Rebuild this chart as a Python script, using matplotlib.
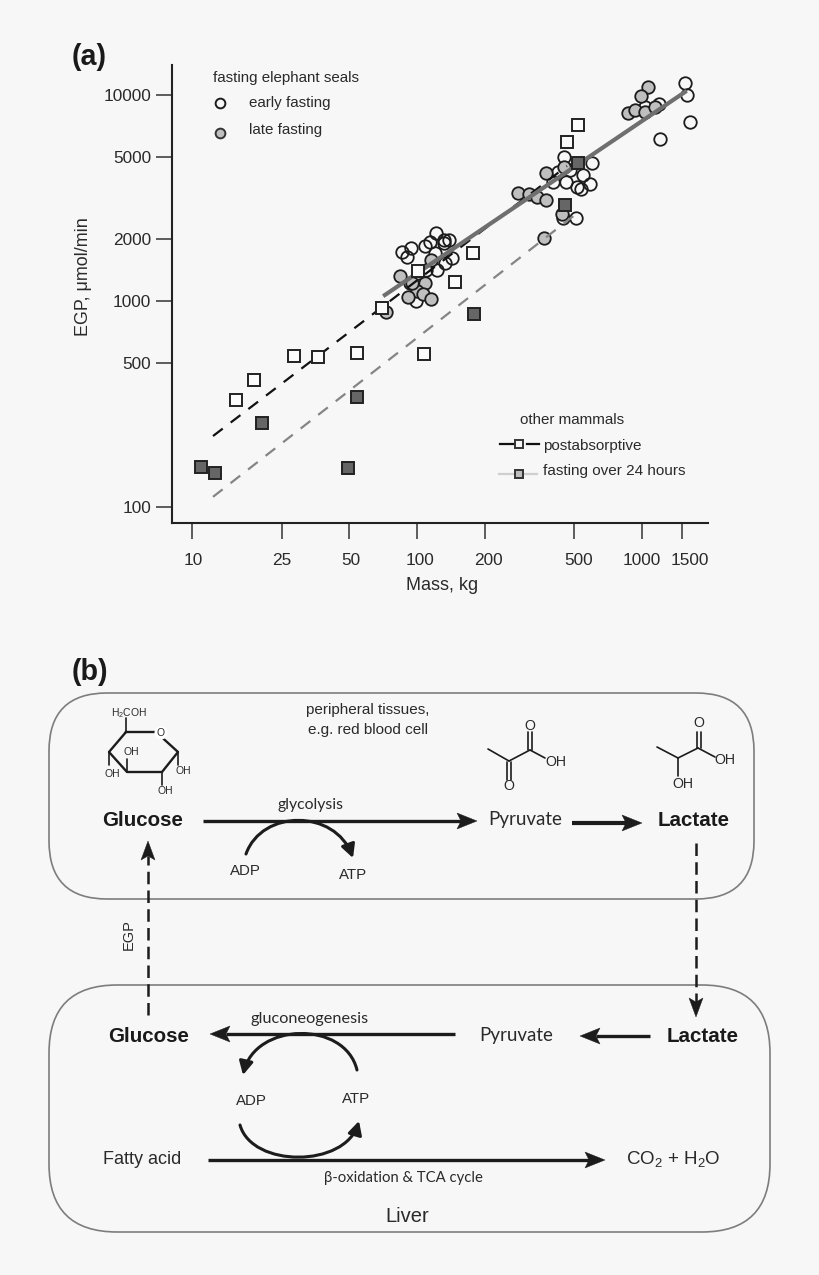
import matplotlib
matplotlib.use('Agg')
import matplotlib.pyplot as plt
import matplotlib.transforms as mtrans
from matplotlib.patches import FancyBboxPatch, FancyArrowPatch, Polygon
from matplotlib.path import Path

plt.rcParams['font.family'] = ['Liberation Sans', 'DejaVu Sans']
plt.rcParams['mathtext.fontset'] = 'custom'
plt.rcParams['mathtext.rm'] = 'Liberation Sans'
plt.rcParams['mathtext.default'] = 'regular'

# focas: ayuno temprano (masa kg, EGP umol/min)
early_mass = [86, 90, 94, 109, 114, 122, 132, 139, 132, 120, 143, 133, 123, 110, 99, 93, 103,
              1553, 1586, 1633, 1202, 1191, 1032, 450, 598, 547, 460, 587, 514, 536, 403, 479, 424, 509, 446]
early_egp = [1730, 1637, 1808, 1849, 1932, 2138, 1914, 1977, 1977, 1710, 1618, 1528, 1413, 1413, 1000, 1224, 1197,
             11428, 10000, 7396, 6112, 9039, 8750, 5000, 4677, 4091, 3784, 3698, 3573, 3499, 3784, 4325, 4227, 2529, 2529]

# focas: ayuno tardio
late_mass = [84, 116, 108, 100, 106, 115, 91, 73, 95,
             1063, 990, 866, 932, 1032, 1143, 375, 450, 281, 315, 342, 375, 442, 367]
late_egp = [1322, 1581, 1224, 1119, 1081, 1023, 1045, 885, 1224,
            10939, 9886, 8180, 8453, 8260, 8750, 4180, 4467, 3342, 3304, 3199, 3090, 2644, 2023]

# otros mamiferos
post_mass = [15.7, 18.9, 28.4, 36.3, 54.1, 107, 69.9, 101, 177, 147.5, 520, 464]
post_egp = [330, 414, 541, 535, 560, 553, 925, 1400, 1710, 1236, 7145, 5916]
fast_mass = [11, 12.7, 20.5, 49.4, 54.1, 179, 455, 520]
fast_egp = [156, 146, 256, 154, 342, 865, 2924, 4677]

# rectas de ajuste
seal_fit_mass = [72, 1552]
seal_fit_egp = [1069, 10340]
post_fit_mass = [12.4, 464]
post_fit_egp = [221, 4519]
fast_fit_mass = [12.4, 509]
fast_fit_egp = [112, 2644]

x_ticks = [10, 25, 50, 100, 200, 500, 1000, 1500]
y_ticks = [100, 500, 1000, 2000, 5000, 10000]
x_label_shift = [1, 0, 2, 3, 4, 4, 0, 8]

BG = '#f7f7f7'
INK = '#1c1c1c'
TXT = '#2a2a2a'
CAL = ['Lato', 'DejaVu Sans']

fig = plt.figure(figsize=(8.2, 12.75), dpi=100, facecolor=BG)

# capa en pixeles para el esquema y los textos
bg = fig.add_axes([0, 0, 1, 1])
bg.set_xlim(0, 820)
bg.set_ylim(1275, 0)
bg.axis('off')


def texto(x, y, s, size=11, **kw):
    kw.setdefault('ha', 'center')
    kw.setdefault('va', 'center')
    kw.setdefault('color', TXT)
    bg.text(x, y, s, fontsize=size, **kw)


def enlace(x0, y0, x1, y1, lw=1.2):
    bg.plot([x0, x1], [y0, y1], color=INK, lw=lw, solid_capstyle='round')


def flecha(x0, y0, x1, y1, lw=2.2, head=20, half=8, dashed=False):
    # linea recta con punta dibujada a mano
    d = ((x1 - x0) ** 2 + (y1 - y0) ** 2) ** 0.5
    ux, uy = (x1 - x0) / d, (y1 - y0) / d
    bx, by = x1 - ux * head, y1 - uy * head
    nx, ny = x1 - ux * (head - 4), y1 - uy * (head - 4)
    ls = (0, (5, 2.5)) if dashed else '-'
    bg.plot([x0, nx], [y0, ny], color=INK, lw=lw, ls=ls, solid_capstyle='butt', dash_capstyle='butt')
    bg.add_patch(Polygon([(x1, y1), (bx - uy * half, by + ux * half), (nx, ny), (bx + uy * half, by - ux * half)],
                         closed=True, fc=INK, ec=INK, lw=0.3, zorder=3))


def arco(p0, c1, c2, p1):
    # curva redondeada con punta pequena
    path = Path([p0, c1, c2, p1], [Path.MOVETO, Path.CURVE4, Path.CURVE4, Path.CURVE4])
    bg.add_patch(FancyArrowPatch(path=path, arrowstyle='-|>,head_length=5,head_width=2.6',
                                 lw=2.2, color=INK, mutation_scale=1.6))


# (a) grafico log-log
ax = fig.add_axes([172 / 820, (1275 - 523) / 1275, (708 - 172) / 820, (523 - 65) / 1275])
ax.patch.set_visible(False)
ax.set_xscale('log')
ax.set_yscale('log')
ax.set_xlim(8.15, 1965)
ax.set_ylim(83.6, 13983)

ax.plot(early_mass, early_egp, 'o', ms=9, mfc='none', mec=INK, mew=1.3, zorder=2)
ax.plot(late_mass, late_egp, 'o', ms=9, mfc='#bfbfbf', mec=INK, mew=1.3, zorder=2)
ax.plot(post_fit_mass, post_fit_egp, color='#111111', lw=1.6, ls=(0, (5.5, 4.5)), zorder=3)
ax.plot(fast_fit_mass, fast_fit_egp, color='#858585', lw=1.6, ls=(0, (5.5, 4.5)), zorder=3)
ax.plot(seal_fit_mass, seal_fit_egp, color='#6f6f6f', lw=3, zorder=3)
ax.plot(post_mass, post_egp, 's', ms=8.4, mfc='#fbfbfb', mec='#222222', mew=1.4, zorder=4)
ax.plot(fast_mass, fast_egp, 's', ms=8.4, mfc='#666666', mec='#222222', mew=1.4, zorder=4)

ax.spines['top'].set_visible(False)
ax.spines['right'].set_visible(False)
ax.spines['left'].set_linewidth(1.5)
ax.spines['bottom'].set_linewidth(1.5)
ax.spines['left'].set_color('#222222')
ax.spines['bottom'].set_color('#222222')
ax.minorticks_off()
ax.set_xticks(x_ticks)
ax.set_xticklabels([str(t) for t in x_ticks])
ax.set_yticks(y_ticks)
ax.set_yticklabels([str(t) for t in y_ticks])
ax.tick_params(axis='x', length=11.5, width=1.1, color='#333333', labelsize=12.4, labelcolor=TXT, pad=10)
ax.tick_params(axis='y', length=11.5, width=1.1, color='#333333', labelsize=12.4, labelcolor=TXT, pad=3.5)
for lab, dx in zip(ax.get_xticklabels(), x_label_shift):
    lab.set_transform(lab.get_transform() + mtrans.ScaledTranslation(dx / 100, 0, fig.dpi_scale_trans))

texto(442, 586, 'Mass, kg', 13)
texto(84, 277, 'EGP, μmol/min', 12.9, rotation=90)
texto(72, 57, '(a)', 20.6, ha='left', fontweight='bold', color='#1a1a1a')
texto(72, 672, '(b)', 20.6, ha='left', fontweight='bold', color='#1a1a1a')

# leyendas
texto(213, 78, 'fasting elephant seals', 10.9, ha='left')
texto(249, 103, 'early fasting', 10.9, ha='left')
texto(249, 130, 'late fasting', 10.9, ha='left')
bg.plot([220], [103], 'o', ms=7, mfc='none', mec=INK, mew=1.4)
bg.plot([220], [133], 'o', ms=7, mfc='#bfbfbf', mec='#333333', mew=1.4)
texto(520, 420, 'other mammals', 10.9, ha='left')
texto(543, 446, 'postabsorptive', 11, ha='left')
texto(543, 471, 'fasting over 24 hours', 11, ha='left')
bg.plot([500, 514], [444, 444], color='#111111', lw=1.6)
bg.plot([527, 539], [444, 444], color='#111111', lw=1.6)
bg.plot([519.5], [444], 's', ms=6.2, mfc='#f7f7f7', mec='#333333', mew=1.4)
bg.plot([499, 513], [474, 474], color='#cfcfcf', lw=1.6)
bg.plot([525, 537], [474, 474], color='#cfcfcf', lw=1.6)
bg.plot([519.5], [474], 's', ms=6.2, mfc='#bdbdbd', mec='#333333', mew=1.4)

# (b) esquema
bg.add_patch(FancyBboxPatch((49, 693), 705, 206, boxstyle='round,pad=0,rounding_size=58',
                            fc='none', ec='#7d7d7d', lw=1.2))
bg.add_patch(FancyBboxPatch((49, 985), 721, 247, boxstyle='round,pad=0,rounding_size=68',
                            fc='none', ec='#7d7d7d', lw=1.2))

texto(368, 710, 'peripheral tissues,', 11)
texto(368, 730, 'e.g. red blood cell', 11)

# glucosa
ring_x = [126, 156, 178, 162, 127, 109, 126]
ring_y = [732, 732, 752, 772, 772, 752, 732]
bg.plot(ring_x, ring_y, color=INK, lw=1.7, solid_joinstyle='round')
enlace(126, 718, 126, 732)
enlace(109, 752, 109, 765)
enlace(127, 772, 127, 759)
enlace(178, 752, 178, 765)
enlace(162, 772, 162, 785)
bg.text(161, 733, 'O', fontsize=7.5, ha='center', va='center', color=TXT,
        bbox=dict(boxstyle='circle,pad=0.15', fc='white', ec='none'), zorder=5)
texto(129, 713, 'H$_2$COH', 7.5)
texto(112, 774, 'OH', 7.5)
texto(131, 752, 'OH', 7.5)
texto(183, 771, 'OH', 7.5)
texto(165, 791, 'OH', 7.5)

# piruvato
enlace(488, 749, 509, 761)
enlace(509, 761, 530, 750)
enlace(530, 750, 545, 758)
enlace(528, 732, 528, 750)
enlace(532, 732, 532, 750)
enlace(507, 762, 507, 780)
enlace(511, 762, 511, 780)
texto(530, 726, 'O', 10.2)
texto(556, 762, 'OH', 10.2)
texto(509, 786, 'O', 10.2)

# lactato
enlace(657, 747, 678, 758)
enlace(678, 758, 698, 748)
enlace(698, 748, 715, 757)
enlace(678, 758, 678, 776)
enlace(697, 732, 697, 748)
enlace(701, 732, 701, 748)
texto(699, 723, 'O', 10.2)
texto(725, 760, 'OH', 10.2)
texto(683, 784, 'OH', 10.2)

texto(143, 821, 'Glucose', 14.8, fontweight='bold', color='#1a1a1a')
texto(525, 820, 'Pyruvate', 13.5, family=CAL)
texto(694, 820, 'Lactate', 14.8, fontweight='bold', color='#1a1a1a')
texto(311, 805, 'glycolysis', 11.4, family=CAL)
texto(245, 871, 'ADP', 10.8)
texto(353, 875, 'ATP', 10.8)
texto(129, 935, 'EGP', 10.5, rotation=90)

flecha(203, 821, 477, 821, lw=2.4)
flecha(572, 823, 642, 823, lw=3)
arco((246, 854), (262, 809), (335, 809), (353, 858))
flecha(148, 1015, 148, 841, lw=1.8, head=19, half=7, dashed=True)
flecha(696, 843, 696, 1017, lw=1.8, head=19, half=7, dashed=True)

texto(149, 1036, 'Glucose', 14.8, fontweight='bold', color='#1a1a1a')
texto(516, 1035, 'Pyruvate', 13.5, family=CAL)
texto(703, 1037, 'Lactate', 14.8, fontweight='bold', color='#1a1a1a')
texto(310, 1019, 'gluconeogenesis', 11.7, family=CAL)
texto(251, 1101, 'ADP', 10.8)
texto(356, 1099, 'ATP', 10.8)
texto(142, 1160, 'Fatty acid', 13)
texto(673, 1159, 'CO$_2$ + H$_2$O', 13.5)
texto(403, 1178, 'β-oxidation & TCA cycle', 10.7, family=CAL)
texto(407, 1217, 'Liver', 14.5)

flecha(455, 1034, 210, 1034, lw=2.4)
flecha(650, 1036, 580, 1036, lw=2.4)
flecha(208, 1160, 605, 1160, lw=2.4)
arco((357, 1070), (345, 1020), (255, 1022), (243, 1075))
arco((240, 1125), (252, 1168), (345, 1168), (359, 1121))

plt.savefig('out.png', dpi=100, facecolor=BG)
